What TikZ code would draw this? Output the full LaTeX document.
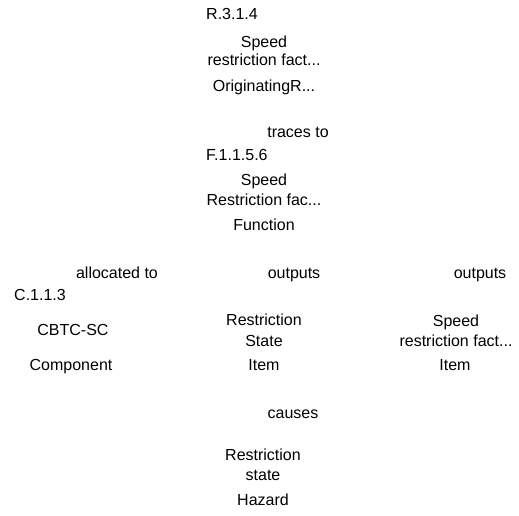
\documentclass[tikz,border=0pt]{standalone}
\usepackage{fontspec}
\setmainfont{Liberation Sans}
\begin{document}
\begin{tikzpicture}[x=1pt,y=-1pt,
  lbl/.style={inner sep=0pt,anchor=base,font=\fontsize{16}{19}\selectfont},
  lblw/.style={lbl,anchor=base west}]
\useasboundingbox (0,0) rectangle (519,515);
% requirement
\node[lblw] (rid) at (206,19.5) {R.3.1.4};
\node[lbl] (rn1) at (264,47.5) {Speed};
\node[lbl] (rn2) at (264,65.5) {restriction fact...};
\node[lbl] (rty) at (264,91.5) {OriginatingR...};
\node[lbl] (tr) at (298,137.5) {traces to};
% function
\node[lblw] (fid) at (206,160.5) {F.1.1.5.6};
\node[lbl] (fn1) at (264,185.5) {Speed};
\node[lbl] (fn2) at (264,205.5) {Restriction fac...};
\node[lbl] (fty) at (264,230.5) {Function};
% relations of the function
\node[lbl] (al) at (117,278.5) {allocated to};
\node[lbl] (o1) at (294,278.5) {outputs};
\node[lbl] (o2) at (480,278.5) {outputs};
% component
\node[lblw] (cid) at (14,300.5) {C.1.1.3};
\node[lbl] (cn) at (73,335.5) {CBTC-SC};
\node[lbl] (cty) at (71,370.5) {Component};
% items
\node[lbl] (i1a) at (264,325.5) {Restriction};
\node[lbl] (i1b) at (264,346.5) {State};
\node[lbl] (i1t) at (264,370.5) {Item};
\node[lbl] (i2a) at (456,326.5) {Speed};
\node[lbl] (i2b) at (456,346.5) {restriction fact...};
\node[lbl] (i2t) at (455,370.5) {Item};
% hazard
\node[lbl] (ca) at (293,418.5) {causes};
\node[lbl] (h1) at (263,460.5) {Restriction};
\node[lbl] (h2) at (263,480.5) {state};
\node[lbl] (hty) at (263,505.5) {Hazard};
\end{tikzpicture}
\end{document}
